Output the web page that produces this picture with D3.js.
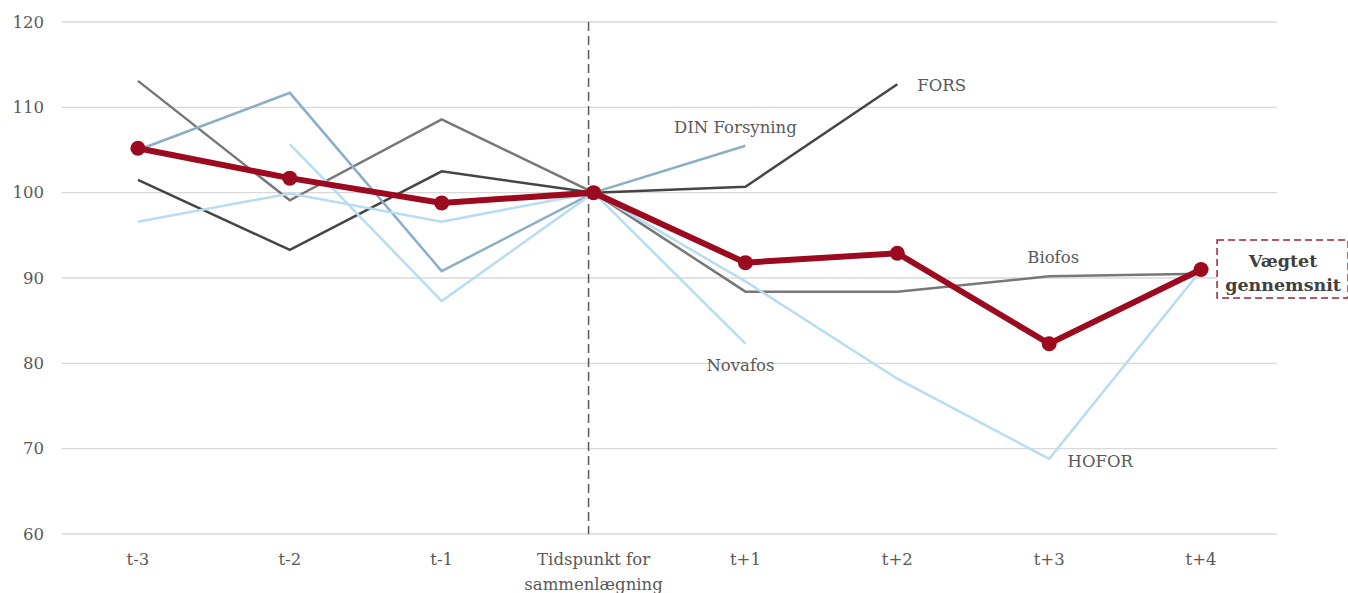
<!DOCTYPE html>
<html>
<head>
<meta charset="utf-8">
<script src="https://cdn.jsdelivr.net/npm/d3@7"></script>
<style>
  body { margin: 0; background: #fff; }
  svg text { font-family: "DejaVu Serif", "Liberation Serif", serif; fill: #595959; }
</style>
</head>
<body>
<div id="chart"></div>
<script>
// categories on the x axis
const categories = ["t-3", "t-2", "t-1", "Tidspunkt for|sammenlægning", "t+1", "t+2", "t+3", "t+4"];
const yTicks = [60, 70, 80, 90, 100, 110, 120];

// series values (null = no value)
const fors     = [101.5, 93.3, 102.5, 100, 100.7, 112.7, null, null];
const biofos   = [113.1, 99.1, 108.6, 100, 88.4, 88.4, 90.2, 90.5];
const din      = [105.0, 111.7, 90.8, 100, 105.5, null, null, null];
const novafos  = [null, 105.7, 87.3, 100, 82.3, null, null, null];
const hofor    = [96.6, 99.9, 96.6, 100, 89.6, 78.2, 68.8, 90.9];
const weighted = [105.2, 101.7, 98.8, 100, 91.8, 92.9, 82.3, 91.0];

const series = [
  { name: "Biofos", values: biofos, color: "#777777", width: 2.5 },
  { name: "FORS", values: fors, color: "#454545", width: 2.5 },
  { name: "DIN Forsyning", values: din, color: "#8aafc4", width: 2.5 },
  { name: "HOFOR", values: hofor, color: "#b8dcf1", width: 2.5 },
  { name: "Novafos", values: novafos, color: "#b8dcf1", width: 2.5 }
];

// series labels: anchor category + value for placement
const labels = [
  { text: "FORS", cat: 5, val: 112.6, dx: 20, anchor: "start" },
  { text: "DIN Forsyning", cat: 4, val: 107.7, dx: -10, anchor: "middle" },
  { text: "Novafos", cat: 4, val: 79.8, dx: -5, anchor: "middle" },
  { text: "Biofos", cat: 6, val: 92.4, dx: 4, anchor: "middle" },
  { text: "HOFOR", cat: 6, val: 68.5, dx: 51, anchor: "middle" }
];

const W = 1348, H = 593;
const margin = { top: 22, right: 71, bottom: 59, left: 62 };

const svg = d3.select("#chart").append("svg")
  .attr("width", W).attr("height", H);

const x = d3.scaleBand().domain(categories).range([margin.left, W - margin.right]);
const y = d3.scaleLinear().domain([60, 120]).range([H - margin.bottom, margin.top]);
const cx = c => x(c) + x.bandwidth() / 2;

// grid
svg.append("g").selectAll("line").data(yTicks).join("line")
  .attr("x1", margin.left).attr("x2", W - margin.right)
  .attr("y1", d => y(d)).attr("y2", d => y(d))
  .attr("stroke", "#d9d9d9").attr("stroke-width", 1.3);

// y axis labels
svg.append("g").selectAll("text").data(yTicks).join("text")
  .attr("x", 44).attr("y", d => y(d)).attr("dy", "0.35em")
  .attr("text-anchor", "end").style("font-size", "16.5px")
  .text(d => d);

// x axis labels
const xl = svg.append("g").selectAll("text").data(categories).join("text")
  .attr("x", d => cx(d)).attr("y", H - margin.bottom + 31)
  .attr("text-anchor", "middle").style("font-size", "16.5px");
xl.each(function(d) {
  const parts = d.split("|");
  d3.select(this).selectAll("tspan").data(parts).join("tspan")
    .attr("x", cx(d)).attr("dy", (p, i) => i ? 25 : 0)
    .text(p => p);
});

// dashed marker at merge time
const tMerge = categories[3];
svg.append("line")
  .attr("x1", cx(tMerge) - 5).attr("x2", cx(tMerge) - 5)
  .attr("y1", y(120)).attr("y2", y(60))
  .attr("stroke", "#595959").attr("stroke-width", 1.5)
  .attr("stroke-dasharray", "9,5");

const line = d3.line()
  .defined(d => d.v != null)
  .x(d => cx(d.c))
  .y(d => y(d.v));

const toPts = vals => vals.map((v, i) => ({ c: categories[i], v }));

svg.append("g").selectAll("path").data(series).join("path")
  .attr("d", s => line(toPts(s.values)))
  .attr("fill", "none")
  .attr("stroke", s => s.color)
  .attr("stroke-width", s => s.width)
  .attr("stroke-linejoin", "miter");

// weighted average
svg.append("path")
  .attr("d", line(toPts(weighted)))
  .attr("fill", "none").attr("stroke", "#9b0a1e").attr("stroke-width", 6);
svg.append("g").selectAll("circle").data(toPts(weighted)).join("circle")
  .attr("cx", d => cx(d.c)).attr("cy", d => y(d.v)).attr("r", 7.5)
  .attr("fill", "#9b0a1e");

// series labels
svg.append("g").selectAll("text").data(labels).join("text")
  .attr("x", d => cx(categories[d.cat]) + d.dx).attr("y", d => y(d.val))
  .attr("dy", "0.35em").attr("text-anchor", d => d.anchor)
  .style("font-size", "16.5px")
  .text(d => d.text);

// weighted average label box
const lastX = cx(categories[7]);
const boxTop = y(94.45);
const box = svg.append("g");
box.append("rect")
  .attr("x", lastX + 16).attr("y", boxTop)
  .attr("width", 131).attr("height", 58)
  .attr("fill", "#fff").attr("stroke", "#9b2335").attr("stroke-width", 1.5)
  .attr("stroke-dasharray", "7,4");
const bt = box.append("text")
  .attr("x", lastX + 82).attr("y", boxTop + 27)
  .attr("text-anchor", "middle").style("font-size", "17.5px").style("font-weight", "bold")
  .style("fill", "#404040");
bt.append("tspan").attr("x", lastX + 82).text("Vægtet");
bt.append("tspan").attr("x", lastX + 82).attr("dy", 24).text("gennemsnit");
</script>
</body>
</html>
